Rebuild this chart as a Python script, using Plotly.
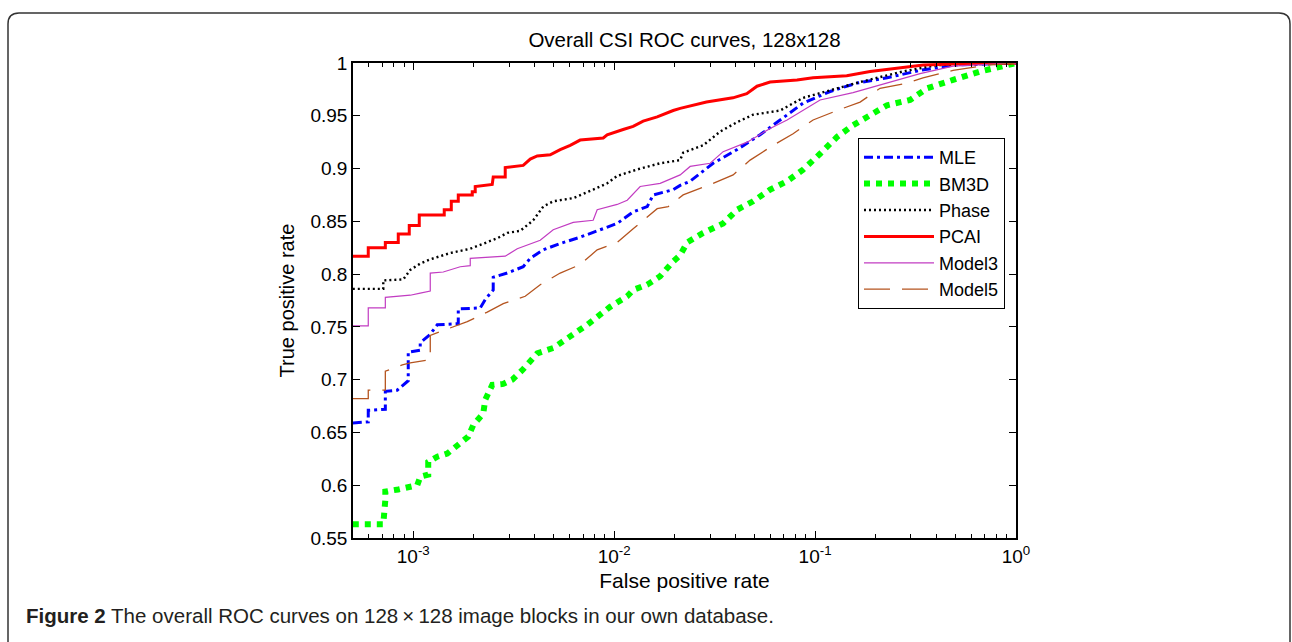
import plotly.graph_objects as go

# ROC curves: false positive rate (log axis) vs true positive rate
mle_fpr = [5.0e-4, 5.97e-4, 5.97e-4, 7.26e-4, 7.26e-4, 8.32e-4, 9.44e-4, 9.44e-4, 1.083e-3, 1.083e-3,
           1.215e-3, 1.316e-3, 1.675e-3, 1.675e-3, 2.154e-3, 2.282e-3, 2.5e-3, 2.5e-3, 2.936e-3, 3.526e-3,
           3.821e-3, 4.434e-3, 5.386e-3, 6.772e-3, 8.52e-3, 0.01035, 0.01243, 0.0146, 0.01563, 0.01966,
           0.0213, 0.02389, 0.03109, 0.04092, 0.05324, 0.06697, 0.08715, 0.1187, 0.1618, 0.2282, 0.333,
           0.486, 1.0]
mle_tpr = [0.659, 0.660, 0.671, 0.672, 0.689, 0.690, 0.699, 0.726, 0.728, 0.735,
           0.743, 0.752, 0.753, 0.767, 0.768, 0.776, 0.785, 0.797, 0.801, 0.807,
           0.815, 0.823, 0.829, 0.835, 0.842, 0.848, 0.859, 0.864, 0.875, 0.880,
           0.884, 0.888, 0.905, 0.918, 0.932, 0.946, 0.962, 0.973, 0.981, 0.986, 0.993,
           0.998, 1.0]

bm3d_fpr = [5.0e-4, 7.09e-4, 7.26e-4, 7.26e-4, 8.42e-4, 1.047e-3, 1.083e-3, 1.187e-3, 1.187e-3, 1.316e-3,
            1.476e-3, 1.563e-3, 1.675e-3, 1.878e-3, 1.988e-3, 2.23e-3, 2.282e-3, 2.472e-3, 2.804e-3, 3.11e-3,
            3.486e-3, 3.821e-3, 4.14e-3, 4.972e-3, 5.386e-3, 6.04e-3, 7.34e-3, 8.23e-3, 9.55e-3, 0.01161,
            0.01243, 0.0146, 0.01694, 0.01966, 0.0213, 0.02308, 0.02773, 0.03486, 0.04092, 0.04914,
            0.05971, 0.07256, 0.08715, 0.1059, 0.1287, 0.1545, 0.1878, 0.2282, 0.297, 0.3607,
            0.486, 0.6623, 0.8617, 1.0]
bm3d_tpr = [0.563, 0.563, 0.586, 0.594, 0.596, 0.600, 0.608, 0.610, 0.622, 0.627,
            0.630, 0.634, 0.639, 0.646, 0.657, 0.668, 0.681, 0.695, 0.696, 0.700,
            0.709, 0.717, 0.725, 0.730, 0.735, 0.741, 0.752, 0.760, 0.769, 0.779,
            0.785, 0.790, 0.798, 0.812, 0.818, 0.830, 0.839, 0.848, 0.861, 0.869,
            0.880, 0.888, 0.899, 0.914, 0.930, 0.941, 0.951, 0.960, 0.965, 0.976,
            0.984, 0.992, 0.997, 1.0]

phase_fpr = [5.0e-4, 7.09e-4, 7.09e-4, 8.92e-4, 9.66e-4, 1.083e-3, 1.215e-3, 1.528e-3, 1.921e-3, 2.23e-3,
             2.618e-3, 2.936e-3, 3.407e-3, 3.954e-3, 4.434e-3, 4.972e-3, 6.252e-3, 7.86e-3, 9.23e-3, 0.01035,
             0.01347, 0.01694, 0.0213, 0.02204, 0.02773, 0.03369, 0.04092, 0.04914, 0.06697, 0.08715,
             0.1187, 0.1675, 0.2741, 0.4045, 1.0]
phase_tpr = [0.786, 0.786, 0.794, 0.795, 0.804, 0.810, 0.814, 0.820, 0.824, 0.829,
             0.834, 0.839, 0.841, 0.851, 0.864, 0.869, 0.872, 0.880, 0.886, 0.893,
             0.900, 0.905, 0.908, 0.915, 0.922, 0.935, 0.944, 0.951, 0.955, 0.967,
             0.974, 0.982, 0.992, 0.998, 1.0]

pcai_fpr = [5.0e-4, 5.97e-4, 5.97e-4, 7.26e-4, 7.26e-4, 8.42e-4, 8.42e-4, 9.55e-4, 9.55e-4, 1.071e-3,
            1.071e-3, 1.426e-3, 1.426e-3, 1.546e-3, 1.546e-3, 1.675e-3, 1.675e-3, 1.966e-3, 1.966e-3, 2.034e-3,
            2.034e-3, 2.472e-3, 2.5e-3, 2.869e-3, 2.869e-3, 3.526e-3, 3.821e-3, 4.14e-3, 4.804e-3, 5.386e-3,
            6.04e-3, 6.772e-3, 8.82e-3, 9.23e-3, 0.01108, 0.01243, 0.01394, 0.01637, 0.01966, 0.0213,
            0.0288, 0.0390, 0.0457, 0.0514, 0.0597, 0.0813, 0.0977, 0.1437, 0.1878, 0.2751,
            0.346, 0.488, 1.0]
pcai_tpr = [0.817, 0.817, 0.825, 0.825, 0.830, 0.830, 0.838, 0.838, 0.846, 0.846,
            0.856, 0.856, 0.861, 0.861, 0.869, 0.869, 0.875, 0.875, 0.878, 0.878,
            0.883, 0.885, 0.892, 0.892, 0.901, 0.903, 0.909, 0.912, 0.913, 0.918,
            0.922, 0.927, 0.929, 0.932, 0.937, 0.940, 0.945, 0.949, 0.955, 0.957,
            0.963, 0.967, 0.971, 0.978, 0.982, 0.984, 0.986, 0.988, 0.992, 0.996,
            0.998, 0.999, 1.0]

model3_fpr = [5.0e-4, 5.97e-4, 5.97e-4, 7.26e-4, 7.26e-4, 8.42e-4, 9.66e-4, 1.083e-3, 1.215e-3, 1.215e-3,
              1.41e-3, 1.713e-3, 1.921e-3, 1.921e-3, 2.869e-3, 3.292e-3, 4.283e-3, 4.972e-3, 6.252e-3, 7.86e-3,
              8.23e-3, 0.01035, 0.01161, 0.01347, 0.01694, 0.0213, 0.02389, 0.03004, 0.03486, 0.04589,
              0.05971, 0.07256, 0.1059, 0.1545, 0.2282, 0.333, 0.486, 1.0]
model3_tpr = [0.751, 0.751, 0.768, 0.768, 0.778, 0.779, 0.780, 0.782, 0.784, 0.801,
              0.802, 0.807, 0.808, 0.815, 0.817, 0.824, 0.832, 0.842, 0.849, 0.851,
              0.861, 0.866, 0.870, 0.883, 0.886, 0.894, 0.902, 0.905, 0.916, 0.925,
              0.938, 0.946, 0.965, 0.972, 0.981, 0.990, 0.997, 1.0]

model5_fpr = [5.0e-4, 5.97e-4, 5.97e-4, 7.26e-4, 7.26e-4, 8.82e-4, 9.66e-4, 1.174e-3, 1.215e-3, 1.215e-3,
              1.476e-3, 1.857e-3, 2.335e-3, 2.804e-3, 3.607e-3, 4.283e-3, 5.386e-3, 6.772e-3, 8.23e-3, 0.01035,
              0.01243, 0.0146, 0.01637, 0.01857, 0.02204, 0.03109, 0.03909, 0.04749, 0.0618, 0.07771,
              0.09772, 0.1287, 0.1675, 0.2105, 0.287, 0.3445, 0.486, 0.7175, 1.0]
model5_tpr = [0.682, 0.682, 0.690, 0.690, 0.708, 0.714, 0.716, 0.719, 0.719, 0.742,
              0.748, 0.755, 0.764, 0.772, 0.779, 0.790, 0.801, 0.809, 0.823, 0.830,
              0.843, 0.854, 0.862, 0.864, 0.875, 0.886, 0.894, 0.908, 0.922, 0.933,
              0.946, 0.955, 0.963, 0.976, 0.981, 0.986, 0.993, 0.998, 1.0]

x_tick_vals = [1e-3, 1e-2, 1e-1, 1.0]
x_tick_text = ["10<sup>-3</sup>", "10<sup>-2</sup>", "10<sup>-1</sup>", "10<sup>0</sup>"]
y_tick_vals = [0.55, 0.6, 0.65, 0.7, 0.75, 0.8, 0.85, 0.9, 0.95, 1.0]
y_tick_text = ["0.55", "0.6", "0.65", "0.7", "0.75", "0.8", "0.85", "0.9", "0.95", "1"]

FONT = "Liberation Sans, Arial, Helvetica, sans-serif"

series = [
    ("MLE", mle_fpr, mle_tpr, dict(color="#0000FF", width=3, dash="9px,4px,3px,4px")),
    ("BM3D", bm3d_fpr, bm3d_tpr, dict(color="#00FF00", width=6, dash="6px,6px")),
    ("Phase", phase_fpr, phase_tpr, dict(color="#000000", width=2.4, dash="2px,3px")),
    ("PCAI", pcai_fpr, pcai_tpr, dict(color="#FF0000", width=3)),
    ("Model3", model3_fpr, model3_tpr, dict(color="#C23CC2", width=1.2)),
    ("Model5", model5_fpr, model5_tpr, dict(color="#B5541F", width=1.3, dash="26px,12px")),
]

fig = go.Figure()
for name, xs, ys, line in series:
    fig.add_trace(go.Scatter(x=xs, y=ys, mode="lines", name=name, line=line))

W, H = 1292, 642
L, R, T, B = 353, 1016, 63, 538
pw, ph = R - L, B - T


def px_x(v):
    return (v - L) / pw


def px_y(v):
    return (B - v) / ph


# rounded frame around the whole figure panel
fl, fr, ft, fb = px_x(8), px_x(1290), px_y(13), px_y(720)
rx, ry = 11 / pw, 11 / ph
frame = (f"M {fl},{fb} L {fl},{ft - ry} Q {fl},{ft} {fl + rx},{ft} "
         f"L {fr - rx},{ft} Q {fr},{ft} {fr},{ft - ry} L {fr},{fb}")

fig.update_layout(
    width=W, height=H,
    margin=dict(l=L, r=W - R, t=T, b=H - B),
    paper_bgcolor="white", plot_bgcolor="white",
    font=dict(family=FONT, color="black", size=18),
    title=dict(text="Overall CSI ROC curves, 128x128", x=(L + R) / 2 / W, xanchor="center",
               y=1 - 40 / H, yanchor="middle", yref="container",
               font=dict(size=20.5, family=FONT, color="black")),
    showlegend=True,
    legend=dict(x=px_x(858), y=px_y(138), xanchor="left", yanchor="top",
                bgcolor="white", bordercolor="black", borderwidth=1,
                font=dict(size=18, family=FONT), itemwidth=70,
                traceorder="normal"),
    shapes=[dict(type="path", path=frame, xref="paper", yref="paper",
                 line=dict(color="#333333", width=1.5), fillcolor="rgba(0,0,0,0)", layer="above")],
    annotations=[dict(text="<b>Figure 2</b> The overall ROC curves on 128\u2009\u00d7\u2009128 image blocks in our own database.",
                      x=px_x(24), y=px_y(615), xref="paper", yref="paper",
                      xanchor="left", yanchor="middle", showarrow=False,
                      font=dict(size=20.5, family=FONT, color="#231F20"))],
)

fig.update_xaxes(
    type="log", range=[-3.3, 0],
    tickvals=x_tick_vals, ticktext=x_tick_text,
    ticks="inside", ticklen=7, tickwidth=1, tickcolor="black",
    showline=True, linecolor="black", linewidth=1.5, mirror="ticks",
    showgrid=False, zeroline=False,
    minor=dict(ticks="inside", ticklen=4, tickcolor="black", dtick="D1", showgrid=False),
    tickfont=dict(size=19, family=FONT),
    title=dict(text="False positive rate", font=dict(size=21, family=FONT), standoff=8),
)
fig.update_yaxes(
    range=[0.55, 1.0],
    tickvals=y_tick_vals, ticktext=y_tick_text,
    ticks="inside", ticklen=7, tickwidth=1, tickcolor="black",
    showline=True, linecolor="black", linewidth=1.5, mirror="ticks",
    showgrid=False, zeroline=False,
    tickfont=dict(size=19, family=FONT),
    title=dict(text="True positive rate", font=dict(size=20, family=FONT), standoff=10),
)

fig.write_html("out.html")
